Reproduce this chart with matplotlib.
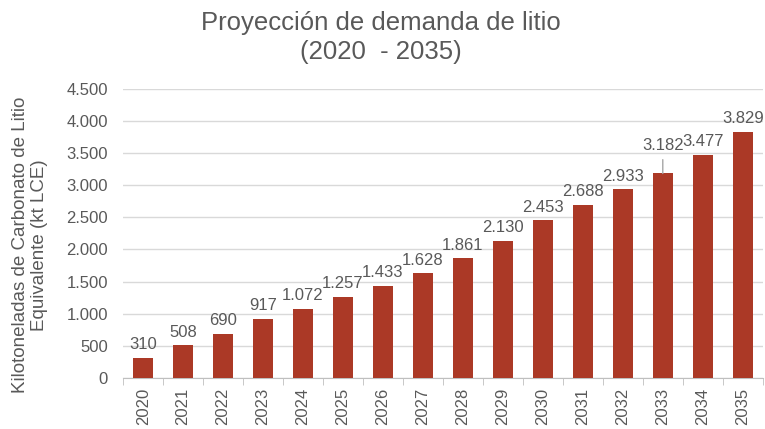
import numpy as np
import matplotlib.pyplot as plt
from matplotlib.ticker import FuncFormatter, FixedLocator

plt.rcParams['font.family'] = ['Liberation Sans', 'DejaVu Sans']

# Datos
anios = [str(a) for a in range(2020, 2036)]
demanda = [310, 508, 690, 917, 1072, 1257, 1433, 1628, 1861, 2130,
           2453, 2688, 2933, 3182, 3477, 3829]

color_barra = '#AB3926'
gris = '#595959'

fig = plt.figure(figsize=(7.65, 4.29), dpi=100)
ax = fig.add_axes([0.161, 0.119, 0.836, 0.674])

x = np.arange(len(anios))
ax.bar(x, demanda, width=0.5, color=color_barra, zorder=3)

def miles(v, pos=None):
    return f"{int(v):,}".replace(",", ".")

# Etiquetas de valor
for xi, v in zip(x, demanda):
    if v == 3182:
        ax.annotate(miles(v), xy=(xi, v), xytext=(xi, v + 440),
                    ha='center', va='center', fontsize=12, color=gris,
                    arrowprops=dict(arrowstyle='-', color='#A6A6A6', lw=1,
                                    shrinkA=3, shrinkB=0))
    else:
        ax.text(xi, v + 90, miles(v), ha='center', va='bottom',
                fontsize=12, color=gris, clip_on=False)

ax.set_xlim(-0.5, len(anios) - 0.5)
ax.set_ylim(0, 4500)
ax.set_yticks(np.arange(0, 4501, 500))
ax.yaxis.set_major_formatter(FuncFormatter(miles))
ax.set_xticks(x)
ax.set_xticklabels(anios, rotation=90)
ax.xaxis.set_minor_locator(FixedLocator(np.arange(-0.5, len(anios), 1)))
ax.tick_params(axis='x', which='major', length=0, labelsize=12,
               labelcolor=gris, pad=7)
ax.tick_params(axis='x', which='minor', length=5, color='#BFBFBF')
ax.tick_params(axis='y', length=0, labelsize=12, labelcolor=gris, pad=11)

ax.grid(axis='y', color='#D9D9D9', lw=1, zorder=0)
for s in ['top', 'right', 'left']:
    ax.spines[s].set_visible(False)
ax.spines['bottom'].set_color('#BFBFBF')

ax.set_ylabel("Kilotoneladas de Carbonato de Litio\nEquivalente (kt LCE)",
              fontsize=13.5, color=gris, labelpad=8, linespacing=1.15)
ax.yaxis.set_label_coords(-0.118, 0.46)

fig.text(0.498, 0.912, "Proyección de demanda de litio\n(2020  - 2035)",
         ha='center', va='center', fontsize=18.5, color=gris, linespacing=1.25)

fig.savefig('out.png', dpi=100)
